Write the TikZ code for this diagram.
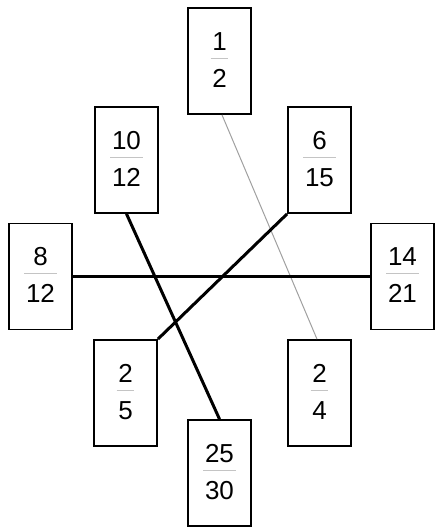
\documentclass[tikz,border=0pt]{standalone}
\usepackage{fontspec}
\setmainfont{Liberation Sans}
\usetikzlibrary{calc}
\definecolor{barc}{HTML}{C4C4C4}
\definecolor{thinc}{HTML}{A0A0A0}
\tikzset{
  fracbox/.style={draw=black, line width=1.8pt, rectangle, minimum width=63pt, minimum height=106pt, inner sep=0pt, fill=white},
  numtxt/.style={inner sep=0pt, font=\fontsize{26}{30}\selectfont, anchor=base},
  fracbar/.style={draw=barc, line width=1pt},
  thickline/.style={draw=black, line width=3pt},
  thinline/.style={draw=thinc, line width=1pt},
}
\newcommand\fracbox[4]{%
  \node[fracbox] (#1) at (#2) {};
  \node[numtxt] (#1n) at ($(#1.center)+(0,-11)$) {#3};
  \node[numtxt] (#1d) at ($(#1.center)+(0,26)$) {#4};
  \path[fracbar] let \p1=(#1n.west), \p2=(#1n.east), \p3=(#1d.west), \p4=(#1d.east), \p5=(#1.center) in
    ({min(\x1,\x3)-1.5pt},{\y5+3pt}) -- ({max(\x2,\x4)+1.5pt},{\y5+3pt});
}
\begin{document}
\begin{tikzpicture}[x=1pt,y=-1pt]
\useasboundingbox (0,0) rectangle (436,528);
\fracbox{a}{219.5,61}{1}{2}
\fracbox{b}{126.5,160}{10}{12}
\fracbox{c}{319.5,160}{6}{15}
\fracbox{d}{40.5,276.5}{8}{12}
\fracbox{e}{402.5,276.5}{14}{21}
\fracbox{f}{125.5,393}{2}{5}
\fracbox{g}{319.5,393}{2}{4}
\fracbox{h}{219.5,473}{25}{30}
\draw[thinline] ([xshift=2.5pt]a.south) -- ([xshift=-2.5pt]g.north);
\draw[thickline] (b.south) -- (h.north);
\draw[thickline] (c.south west) -- (f.north east);
\draw[thickline] (d.east) -- (e.west);
\end{tikzpicture}
\end{document}
